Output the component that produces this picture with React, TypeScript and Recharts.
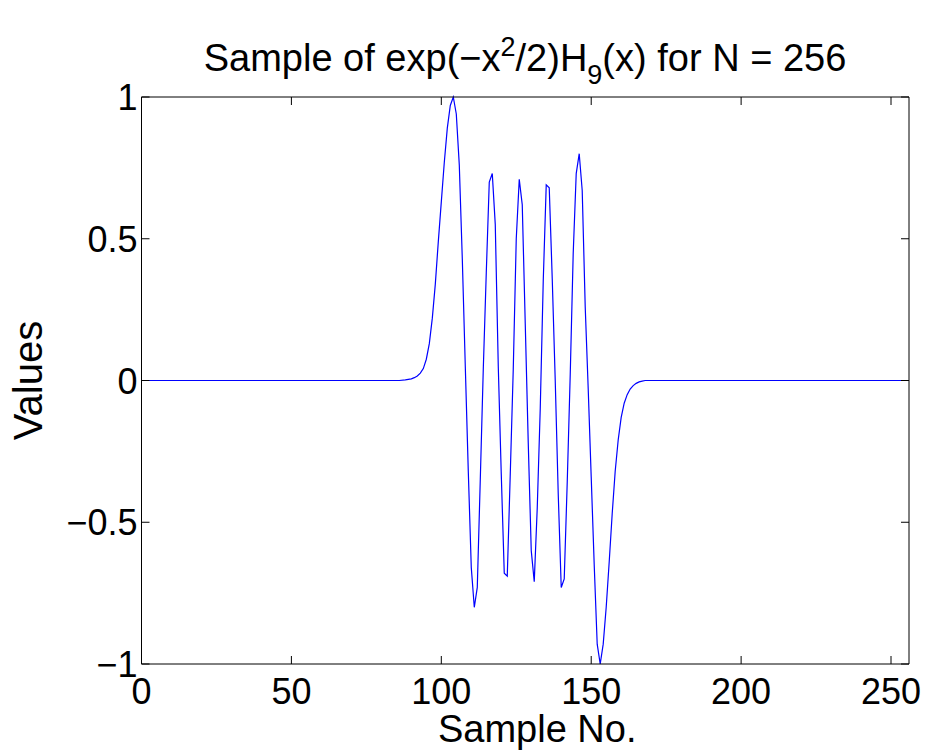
import { LineChart, Line, XAxis, YAxis, Label } from "recharts";

// sample number and value (flat zero outside ~86..168)
const sampleNo = [
  0, 86, 88, 90, 91, 92, 93, 94, 95, 96, 97, 98, 99, 100, 101, 102, 103, 104,
  105, 106, 107, 108, 109, 110, 111, 112, 113, 114, 115, 116, 117, 118, 119,
  120, 121, 122, 123, 124, 125, 126, 127, 128, 129, 130, 131, 132, 133, 134,
  135, 136, 137, 138, 139, 140, 141, 142, 143, 144, 145, 146, 147, 148, 149,
  150, 151, 152, 153, 154, 155, 156, 157, 158, 159, 160, 161, 162, 163, 164,
  165, 166, 167, 168, 256,
];
const values = [
  0, 0, 0.002, 0.006, 0.01, 0.016, 0.026, 0.042, 0.075, 0.13, 0.22, 0.34,
  0.49, 0.63, 0.77, 0.89, 0.97, 1.0, 0.94, 0.76, 0.43, 0.05, -0.32, -0.66,
  -0.8, -0.73, -0.35, 0.04, 0.38, 0.7, 0.73, 0.55, 0.05, -0.33, -0.68, -0.69,
  -0.33, 0.04, 0.5, 0.71, 0.62, 0.2, -0.22, -0.6, -0.71, -0.45, -0.1, 0.35,
  0.69, 0.68, 0.36, 0.0, -0.4, -0.73, -0.7, -0.36, 0.02, 0.45, 0.73, 0.8,
  0.67, 0.26, -0.03, -0.34, -0.65, -0.93, -1.0, -0.93, -0.8, -0.64, -0.47,
  -0.32, -0.21, -0.13, -0.08, -0.05, -0.03, -0.018, -0.01, -0.005, -0.002, 0,
  0,
];
const xTicks = [0, 50, 100, 150, 200, 250];
const yTicks = [-1, -0.5, 0, 0.5, 1];

const data = sampleNo.map((s, i) => ({ s, v: values[i] }));

const FONT = "'Liberation Sans', Arial, Helvetica, sans-serif";
const TICK_LEN = 8;
const fmt = (v: number) => String(v).replace("-", "\u2212");

const BottomTick = ({ x, y, payload }: any) => (
  <g>
    <line x1={x} x2={x} y1={y} y2={y - TICK_LEN} stroke="#000" />
    <text x={x} y={y + 40} textAnchor="middle" fontSize={36} fontFamily={FONT} fill="#000">
      {fmt(payload.value)}
    </text>
  </g>
);

const TopTick = ({ x, y }: any) => (
  <line x1={x} x2={x} y1={y} y2={y + TICK_LEN} stroke="#000" />
);

const LeftTick = ({ x, y, payload }: any) => (
  <g>
    <line x1={x} x2={x + TICK_LEN} y1={y} y2={y} stroke="#000" />
    <text x={x - 4} y={y + 13} textAnchor="end" fontSize={36} fontFamily={FONT} fill="#000">
      {fmt(payload.value)}
    </text>
  </g>
);

const RightTick = ({ x, y }: any) => (
  <line x1={x} x2={x - TICK_LEN} y1={y} y2={y} stroke="#000" />
);

export default function App() {
  return (
    <div style={{ position: "absolute", left: 0, top: 0, width: 927, height: 752, background: "#fff" }}>
      <div
        style={{
          position: "absolute",
          left: 125,
          width: 800,
          top: 22,
          textAlign: "center",
          fontFamily: FONT,
          fontSize: 38,
          lineHeight: "50px",
          color: "#000",
          whiteSpace: "nowrap",
        }}
      >
        Sample of exp({"\u2212"}x
        <sup style={{ fontSize: 27, verticalAlign: 15 }}>2</sup>/2)H
        <sub style={{ fontSize: 27, verticalAlign: -13 }}>9</sub>(x) for N = 256
      </div>
      <LineChart
        width={927}
        height={752}
        data={data}
        margin={{ top: 96, right: 17, bottom: 0, left: 0 }}
      >
        <XAxis
          dataKey="s"
          type="number"
          domain={[0, 256]}
          ticks={xTicks}
          interval={0}
          height={88}
          tickSize={0}
          tickMargin={0}
          tickLine={false}
          axisLine={{ stroke: "#000" }}
          tick={BottomTick}
        >
          <Label
            content={({ viewBox }: any) => (
              <text
                x={viewBox.x + viewBox.width / 2 + 12}
                y={viewBox.y + 78}
                textAnchor="middle"
                fontSize={38}
                fontFamily={FONT}
                fill="#000"
              >
                Sample No.
              </text>
            )}
          />
        </XAxis>
        <XAxis
          xAxisId="top"
          dataKey="s"
          type="number"
          orientation="top"
          domain={[0, 256]}
          ticks={xTicks}
          interval={0}
          height={1}
          tickSize={0}
          tickMargin={0}
          tickLine={false}
          axisLine={{ stroke: "#000" }}
          tick={TopTick}
        />
        <YAxis
          type="number"
          domain={[-1, 1]}
          ticks={yTicks}
          interval={0}
          width={141.5}
          tickSize={0}
          tickMargin={0}
          tickLine={false}
          axisLine={{ stroke: "#000" }}
          tick={LeftTick}
        >
          <Label
            content={({ viewBox }: any) => {
              const cx = viewBox.x + 42;
              const cy = viewBox.y + viewBox.height / 2;
              return (
                <text
                  x={cx}
                  y={cy}
                  transform={`rotate(-90 ${cx} ${cy})`}
                  textAnchor="middle"
                  fontSize={40}
                  fontFamily={FONT}
                  fill="#000"
                >
                  Values
                </text>
              );
            }}
          />
        </YAxis>
        <YAxis
          yAxisId="right"
          type="number"
          orientation="right"
          domain={[-1, 1]}
          ticks={yTicks}
          interval={0}
          width={1}
          tickSize={0}
          tickMargin={0}
          tickLine={false}
          axisLine={{ stroke: "#000" }}
          tick={RightTick}
        />
        {/* invisible copy so the top/right box axes get drawn */}
        <Line
          xAxisId="top"
          yAxisId="right"
          dataKey="v"
          stroke="none"
          dot={false}
          activeDot={false}
          legendType="none"
          isAnimationActive={false}
        />
        <Line
          dataKey="v"
          type="linear"
          stroke="#0000ff"
          strokeWidth={1.2}
          dot={false}
          isAnimationActive={false}
        />
      </LineChart>
    </div>
  );
}
